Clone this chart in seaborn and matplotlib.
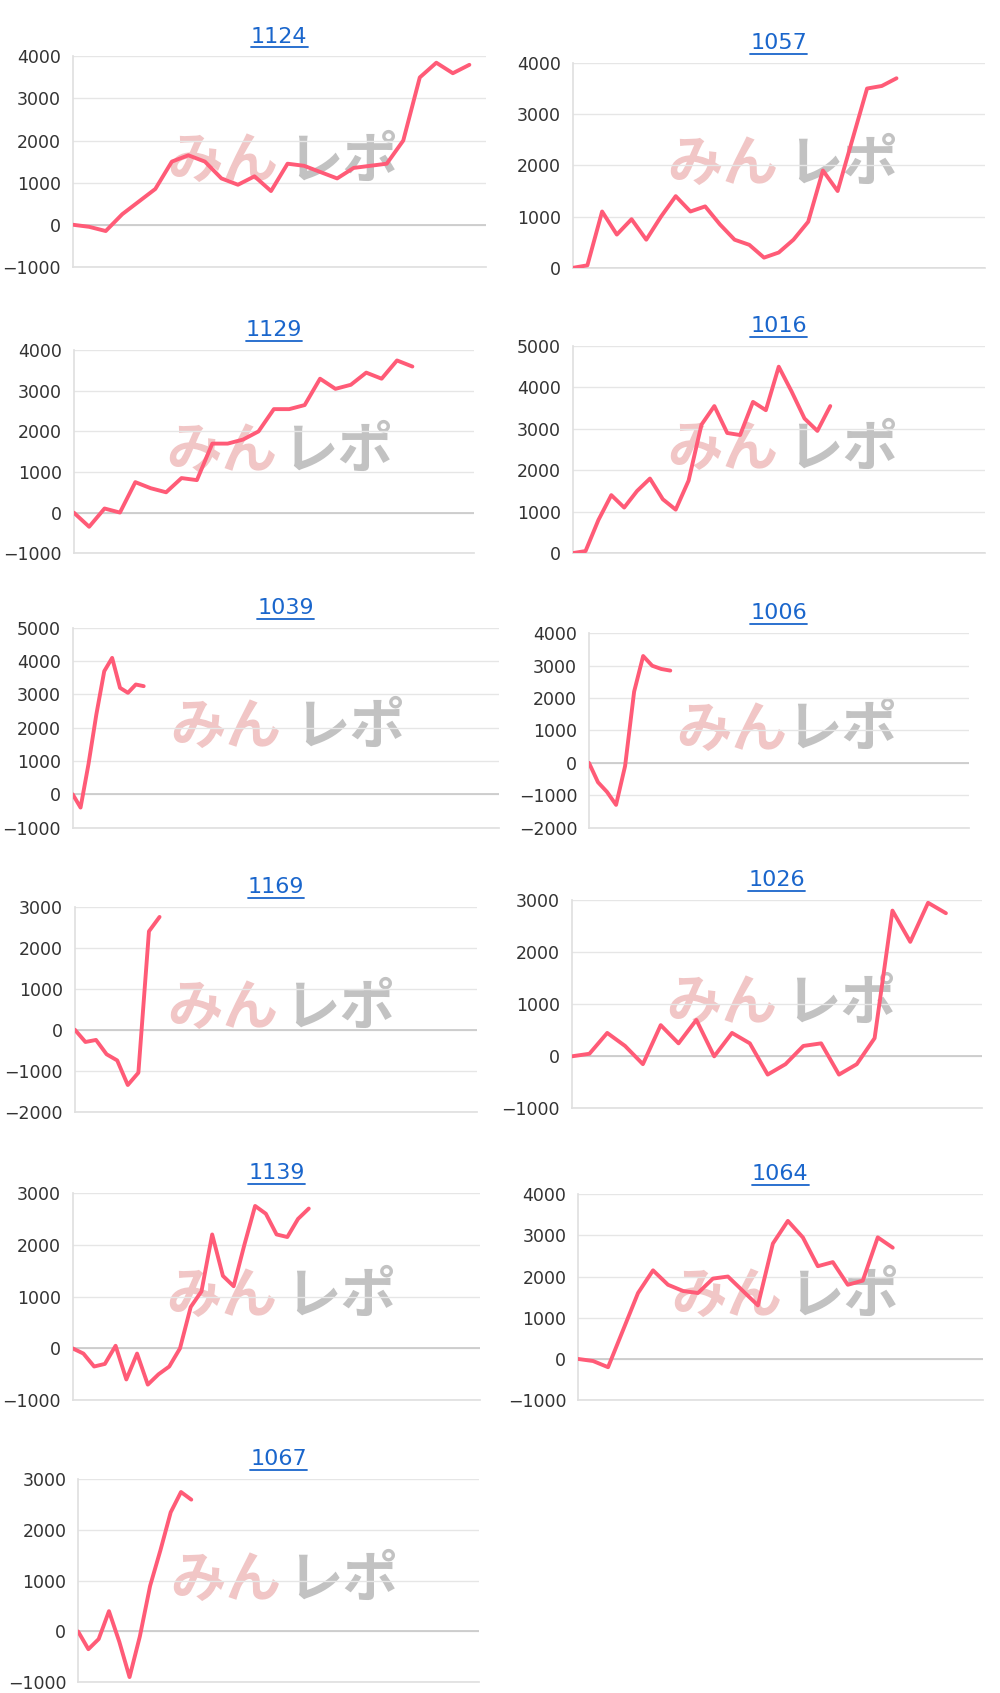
import matplotlib
matplotlib.use("Agg")
import matplotlib.pyplot as plt
import seaborn as sns
import pandas as pd

sns.set_theme(style="white")
plt.rcParams['font.family'] = ['DejaVu Sans', 'Noto Sans CJK JP']

titles = ["1124", "1057", "1129", "1016", "1039", "1006", "1169", "1026", "1139", "1064", "1067"]
v1124 = [0, -50, -150, 250, 550, 850, 1500, 1650, 1500, 1100, 950, 1150, 800, 1450, 1400, 1250, 1100, 1350, 1400, 1450, 2000, 3500, 3850, 3600, 3800]
v1057 = [0, 50, 1100, 650, 950, 550, 1000, 1400, 1100, 1200, 850, 550, 450, 200, 300, 550, 900, 1900, 1500, 2500, 3500, 3550, 3700]
v1129 = [0, -350, 100, 0, 750, 600, 500, 850, 800, 1700, 1700, 1800, 2000, 2550, 2550, 2650, 3300, 3050, 3150, 3450, 3300, 3750, 3600]
v1016 = [0, 50, 800, 1400, 1100, 1500, 1800, 1300, 1050, 1750, 3100, 3550, 2900, 2850, 3650, 3450, 4500, 3900, 3250, 2950, 3550]
v1039 = [0, -400, 900, 2400, 3700, 4100, 3200, 3050, 3300, 3250]
v1006 = [0, -600, -900, -1300, -100, 2200, 3300, 3000, 2900, 2850]
v1169 = [0, -300, -250, -600, -750, -1350, -1050, 2400, 2750]
v1026 = [0, 50, 450, 200, -150, 600, 250, 700, 0, 450, 250, -350, -150, 200, 250, -350, -150, 350, 2800, 2200, 2950, 2750]
v1139 = [0, -100, -350, -300, 50, -600, -100, -700, -500, -350, 0, 800, 1100, 2200, 1400, 1200, 2000, 2750, 2600, 2200, 2150, 2500, 2700]
v1064 = [0, -50, -200, 700, 1600, 2150, 1800, 1650, 1600, 1950, 2000, 1650, 1300, 2800, 3350, 2950, 2250, 2350, 1800, 1900, 2950, 2700]
v1067 = [0, -350, -150, 400, -200, -900, -100, 900, 1600, 2350, 2750, 2600]
series = [v1124, v1057, v1129, v1016, v1039, v1006, v1169, v1026, v1139, v1064, v1067]
xmax = [25, 28, 26, 32, 54, 42, 38, 23, 38, 27, 39]
ylims = [(-1000, 4000), (0, 4000), (-1000, 4000), (0, 5000), (-1000, 5000), (-2000, 4000),
         (-2000, 3000), (-1000, 3000), (-1000, 3000), (-1000, 4000), (-1000, 3000)]
boxes = [(67, 52, 448, 246), (528, 58, 908, 247), (68, 323, 437, 510), (528, 319, 908, 510),
         (67, 579, 460, 763), (543, 584, 893, 763), (69, 836, 440, 1025), (527, 830, 905, 1022),
         (67, 1100, 443, 1291), (533, 1101, 906, 1291), (72, 1364, 442, 1551)]
W, H = 922, 1561

fig = plt.figure(figsize=(10, 16.93), dpi=100)
axes = []
for t, v, xm, yl, (l, tp, r, b) in zip(titles, series, xmax, ylims, boxes):
    ax = fig.add_axes([l / W, 1 - b / H, (r - l) / W, (b - tp) / H])
    axes.append(ax)
    df = pd.DataFrame({"x": range(len(v)), "y": v})
    sns.lineplot(data=df, x="x", y="y", ax=ax, color="#ff5b77", lw=2.8, zorder=3)
    ax.set_xlim(0, xm)
    ax.set_ylim(*yl)
    ax.set_yticks(range(yl[0], yl[1] + 1, 1000))
    ax.set_xticks([])
    ax.set_xlabel(""); ax.set_ylabel("")
    ax.tick_params(axis='y', labelsize=12.5, colors="#333333", length=5, color="#dddddd")
    ax.grid(axis='y', color="#e6e6e6", lw=1)
    ax.axhline(0, color="#c8c8c8", lw=1.2, zorder=1)
    for s in ["top", "right"]:
        ax.spines[s].set_visible(False)
    for s in ["left", "bottom"]:
        ax.spines[s].set_color("#e0e0e0")
    ax.set_title(t, color="#1a66cc", fontsize=16, pad=10)
    ax.text(0.23, 0.5, "みん", transform=ax.transAxes, fontsize=40, fontweight='bold',
            family='Noto Sans CJK JP', color="#e8a0a0", alpha=0.6, ha='left', va='center', zorder=0)
    ax.text(0.52, 0.5, "レポ", transform=ax.transAxes, fontsize=40, fontweight='bold',
            family='Noto Sans CJK JP', color="#9a9a9a", alpha=0.6, ha='left', va='center', zorder=0)

fig.canvas.draw()
inv = fig.transFigure.inverted()
for ax in axes:
    bb = ax.title.get_window_extent()
    (x0, y0), (x1, y1) = inv.transform([(bb.x0, bb.y0), (bb.x1, bb.y1)])
    fig.add_artist(plt.Line2D([x0, x1], [y0 - 0.0005, y0 - 0.0005], color="#1a66cc", lw=1.3))

fig.savefig("out.png", dpi=100, facecolor="white")
